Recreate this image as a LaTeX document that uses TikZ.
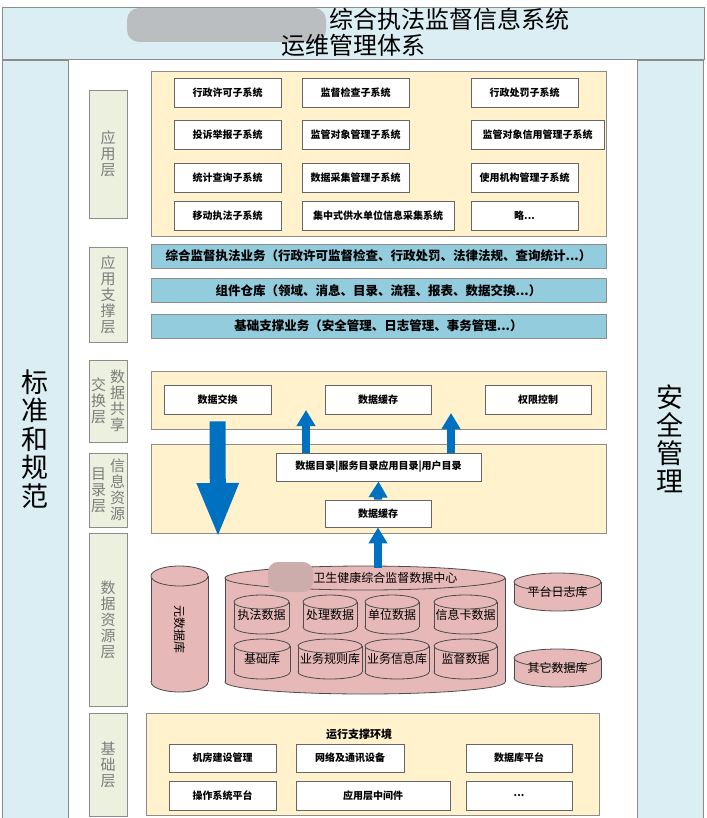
\documentclass[tikz,border=0pt]{standalone}
\usepackage{fontspec}
\setmainfont{Noto Sans CJK SC}
\usetikzlibrary{arrows.meta}

\definecolor{sideblue}{RGB}{218,238,243}
\definecolor{layergreen}{RGB}{235,241,222}
\definecolor{panelcream}{RGB}{255,242,204}
\definecolor{barblue}{RGB}{147,205,221}
\definecolor{dbpink}{RGB}{230,185,184}
\definecolor{flowblue}{RGB}{0,112,192}
\definecolor{edgegray}{RGB}{140,140,140}
\definecolor{lblgray}{RGB}{125,125,125}
\definecolor{smudge}{RGB}{186,190,192}
\definecolor{smudgepink}{RGB}{205,172,172}

\tikzset{
  sidecol/.style={draw=edgegray, fill=sideblue},
  layerbox/.style={draw=edgegray, fill=layergreen},
  panel/.style={draw=edgegray, fill=panelcream},
  layertxt/.style={text=lblgray, align=center, inner sep=0pt,
    font=\fontsize{15}{16}\selectfont},
  subsys/.style={draw=black!60, fill=white, inner sep=0pt, minimum height=29pt,
    minimum width=107pt, font=\fontsize{10}{11}\selectfont\bfseries},
  bizbar/.style={draw=edgegray, fill=barblue, inner sep=0pt, minimum width=455pt,
    minimum height=24pt, font=\fontsize{12.5}{13}\selectfont\bfseries},
  dbfill/.style={fill=dbpink},
  dbline/.style={draw=black!70},
  dbtxt/.style={inner sep=0pt, font=\fontsize{12}{13}\selectfont},
  flowarrow/.style={flowblue, line width=8pt, -{Triangle[length=16pt, width=18pt]}},
}

% database drum: name, centre x, centre y, width, height, cap radius, text
\newcommand{\dbcyl}[7]{%
  \pgfmathsetmacro\dbl{#2-#4/2}\pgfmathsetmacro\dbr{#2+#4/2}%
  \pgfmathsetmacro\dbt{#3-#5/2+#6}\pgfmathsetmacro\dbb{#3+#5/2-#6}%
  \pgfmathsetmacro\dbrx{#4/2}%
  \path[dbfill, dbline] (#2,\dbb) ellipse [x radius=\dbrx pt, y radius=#6pt];
  \fill[dbpink] (\dbl,\dbt) rectangle (\dbr,\dbb);
  \draw[black!70] (\dbl,\dbt) -- (\dbl,\dbb) (\dbr,\dbt) -- (\dbr,\dbb);
  \path[dbfill, dbline] (#2,\dbt) ellipse [x radius=\dbrx pt, y radius=#6pt];
  \node[dbtxt, minimum width=#4pt, minimum height=#5pt] (#1) at (#2,#3) {#7};
}

\begin{document}
\begin{tikzpicture}[x=1pt, y=-1pt, line width=0.8pt]
  \useasboundingbox (0,0) rectangle (706,818);

  % outer frame: ops bar on top, two side columns
  \draw[sidecol] (2,7) rectangle (704,59);
  \fill[smudge, rounded corners=12pt] (127,8) rectangle (326,42);
  \node[anchor=west, inner sep=0pt, font=\fontsize{24}{25}\selectfont] (systitle) at (329,19) {综合执法监督信息系统};
  \node[inner sep=0pt, font=\fontsize{24}{25}\selectfont] (opstitle) at (353,45) {运维管理体系};

  \draw[sidecol] (2,60) rectangle (68,818);
  \node[align=center, inner sep=0pt, font=\fontsize{27}{28.4}\selectfont] (stdlbl) at (35,439) {标\\准\\和\\规\\范};
  \draw[sidecol] (637,60) rectangle (703,818);
  \node[align=center, inner sep=0pt, font=\fontsize{27}{28}\selectfont] (seclbl) at (670,439) {安\\全\\管\\理};

  % layer labels
  \draw[layerbox] (89,90) rectangle (127,218);
  \node[layertxt] (lblapp) at (108,154) {应\\用\\层};
  \draw[layerbox] (89,247) rectangle (127,342);
  \node[layertxt] (lblsup) at (108,294.5) {应\\用\\支\\撑\\层};
  \draw[layerbox] (89,360) rectangle (127,442);
  \node[layertxt] (lblshr) at (117.5,401) {数\\据\\共\\享};
  \node[layertxt] (lblxch) at (98.5,401) {交\\换\\层};
  \draw[layerbox] (89,453) rectangle (127,527);
  \node[layertxt] (lblres) at (117.5,490) {信\\息\\资\\源};
  \node[layertxt] (lbldir) at (98.5,490) {目\\录\\层};
  \draw[layerbox] (89,533) rectangle (127,706);
  \node[layertxt] (lbldata) at (108,619.5) {数\\据\\资\\源\\层};
  \draw[layerbox] (89,713) rectangle (127,816);
  \node[layertxt] (lblbase) at (108,764.5) {基\\础\\层};

  % application layer
  \draw[panel] (151,71) rectangle (606,236);
  \node[subsys] (permit) at (227.5,92.5) {行政许可子系统};
  \node[subsys] (inspect) at (355.5,92.5) {监督检查子系统};
  \node[subsys] (penalty) at (524.5,92.5) {行政处罚子系统};
  \node[subsys] (complain) at (227.5,135) {投诉举报子系统};
  \node[subsys] (objmgr) at (355.5,135) {监管对象管理子系统};
  \node[subsys, minimum width=133pt] (credit) at (537.5,135) {监管对象信用管理子系统};
  \node[subsys] (stats) at (227.5,177.5) {统计查询子系统};
  \node[subsys] (collect) at (355.5,177.5) {数据采集管理子系统};
  \node[subsys] (orgmgr) at (524.5,177.5) {使用机构管理子系统};
  \node[subsys] (mobile) at (227.5,215.5) {移动执法子系统};
  \node[subsys, minimum width=152pt] (water) at (378,215.5) {集中式供水单位信息采集系统};
  \node[subsys] (etc) at (524.5,215.5) {略...};

  % application support layer
  \node[bizbar] (bizlaw) at (378.5,256) {综合监督执法业务（行政许可监督检查、行政处罚、法律法规、查询统计...）};
  \node[bizbar] (bizrepo) at (378.5,290.5) {组件仓库（领域、消息、目录、流程、报表、数据交换...）};
  \node[bizbar] (bizbase) at (378.5,326) {基础支撑业务（安全管理、日志管理、事务管理...）};

  % exchange layer
  \draw[panel] (151,371) rectangle (606,429);
  \node[subsys] (xchg) at (217.5,399.5) {数据交换};
  \node[subsys, minimum width=106pt] (xcache) at (378,399.5) {数据缓存};
  \node[subsys, minimum width=106pt] (acl) at (538,399.5) {权限控制};

  % catalog layer
  \draw[panel] (151,444) rectangle (606,533);
  \node[subsys, minimum width=205pt, minimum height=28pt] (dirbox) at (378.5,467) {数据目录|服务目录应用目录|用户目录};
  \node[subsys, minimum width=106pt, minimum height=27pt] (dcache) at (378,513.5) {数据缓存};

  % data resource layer
  \dbcyl{metadb}{179.5}{629}{57}{126}{10}{}
  \node[rotate=-90, dbtxt] (metatxt) at (metadb.center) {元数据库};
  \dbcyl{center}{365}{630}{280}{128}{12}{}
  \fill[smudgepink, rounded corners=10pt] (268,562) rectangle (313,592);
  \node[anchor=west, dbtxt] (centertxt) at (313,578) {卫生健康综合监督数据中心};
  \dbcyl{enforce}{261.5}{614.5}{55}{39}{7}{执法数据}
  \dbcyl{handle}{330}{614.5}{54}{39}{7}{处理数据}
  \dbcyl{unit}{392}{614.5}{54}{39}{7}{单位数据}
  \dbcyl{card}{465.5}{614.5}{63}{39}{7}{信息卡数据}
  \dbcyl{basedb}{262}{659}{56}{40}{7}{基础库}
  \dbcyl{rules}{330}{659}{64}{40}{7}{业务规则库}
  \dbcyl{bizinfo}{397}{659}{64}{40}{7}{业务信息库}
  \dbcyl{supdata}{465.5}{659}{63}{40}{7}{监督数据}
  \dbcyl{logdb}{557.5}{592}{87}{38}{9}{平台日志库}
  \dbcyl{otherdb}{557.5}{668}{87}{38}{9}{其它数据库}

  % base layer
  \draw[panel] (146,713) rectangle (599,815);
  \node[inner sep=0pt, font=\fontsize{11}{12}\selectfont\bfseries] (runenv) at (359,734) {运行支撑环境};
  \node[subsys, minimum height=28pt] (room) at (222.5,758) {机房建设管理};
  \node[subsys, minimum width=108pt, minimum height=28pt] (network) at (350,758) {网络及通讯设备};
  \node[subsys, minimum width=106pt, minimum height=28pt] (dbplat) at (519,758) {数据库平台};
  \node[subsys] (osplat) at (222.5,795.5) {操作系统平台};
  \node[subsys, minimum width=154pt] (middle) at (373,795.5) {应用层中间件};
  \node[subsys, minimum width=106pt] (more) at (519,795.5) {...};

  % data flow
  \coordinate (downend) at (218,538);
  \draw[flowblue, line width=16pt, -{Triangle[length=55pt, width=38pt]}]
    ([yshift=-7pt]xchg.south) -- (downend);
  \coordinate (upA) at (306,410);
  \coordinate (upB) at (451,413);
  \draw[flowarrow] (dirbox.north -| upA) -- (upA);
  \draw[flowarrow] (dirbox.north -| upB) -- (upB);
  \draw[flowarrow] (dcache.north) -- (dirbox.south);
  \draw[flowarrow] ([yshift=-2pt]center.north -| dcache.south) -- (dcache.south);
\end{tikzpicture}
\end{document}
